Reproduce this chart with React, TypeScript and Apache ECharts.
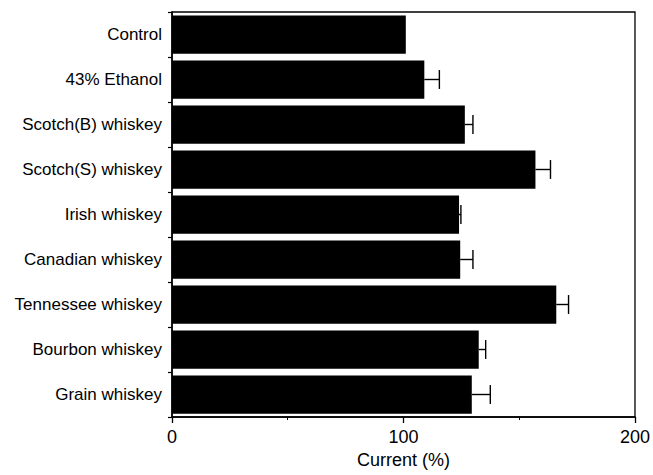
import React, { useEffect, useRef } from "react";
import * as echarts from "echarts";

const categories = [
  "Control",
  "43% Ethanol",
  "Scotch(B) whiskey",
  "Scotch(S) whiskey",
  "Irish whiskey",
  "Canadian whiskey",
  "Tennessee whiskey",
  "Bourbon whiskey",
  "Grain whiskey",
];
const means = [101, 109, 126.5, 157, 124, 124.5, 166, 132.5, 129.5];
const errors = [0, 6.5, 3.5, 6.5, 0.8, 5.5, 5.3, 3, 8];
const xTicks = [0, 100, 200];

const FONT = "'Liberation Sans', Arial, Helvetica, sans-serif";

export default function App() {
  const ref = useRef<HTMLDivElement>(null);
  useEffect(() => {
    if (!ref.current) return;
    const chart = echarts.init(ref.current, null, { renderer: "svg" });
    const errData = categories.map((c, i) => [means[i], c, means[i] + errors[i]]);
    chart.setOption({
      animation: false,
      backgroundColor: "#fff",
      grid: {
        left: 172,
        right: 18,
        top: 12,
        bottom: 58,
        show: true,
        borderColor: "#000",
        borderWidth: 1.3,
        backgroundColor: "transparent",
      },
      xAxis: {
        type: "value",
        min: xTicks[0],
        max: xTicks[xTicks.length - 1],
        interval: 100,
        name: "Current (%)",
        nameLocation: "middle",
        nameGap: 33,
        nameTextStyle: { fontFamily: FONT, fontSize: 18, color: "#000" },
        axisLine: { show: true, lineStyle: { color: "#000", width: 1.5 } },
        axisTick: { show: true, length: 6, lineStyle: { color: "#000", width: 1.3 } },
        minorTick: { show: true, splitNumber: 2, length: 3, lineStyle: { color: "#000", width: 1 } },
        splitLine: { show: false },
        axisLabel: { fontFamily: FONT, fontSize: 18, color: "#000", margin: 11 },
      },
      yAxis: {
        type: "category",
        data: categories,
        inverse: true,
        axisLine: { show: true, lineStyle: { color: "#000", width: 1.5 } },
        axisTick: { show: true, length: 4, lineStyle: { color: "#000", width: 1.2 } },
        splitLine: { show: false },
        axisLabel: { fontFamily: FONT, fontSize: 17, color: "#000", margin: 10 },
      },
      series: [
        {
          type: "bar",
          data: means,
          barWidth: "85%",
          itemStyle: { color: "#000" },
        },
        {
          type: "custom",
          data: errData,
          encode: { x: [0, 2], y: 1 },
          z: 3,
          renderItem: (params: any, api: any) => {
            const lo = api.value(0);
            const hi = api.value(2);
            if (hi - lo <= 0) return { type: "group", children: [] };
            const yi = api.value(1);
            const p0 = api.coord([lo, yi]);
            const p1 = api.coord([hi, yi]);
            const h = api.size([0, 1])[1] * 0.42;
            const style = { stroke: "#000", lineWidth: 1.4 };
            return {
              type: "group",
              children: [
                { type: "line", shape: { x1: p0[0], y1: p0[1], x2: p1[0], y2: p1[1] }, style },
                { type: "line", shape: { x1: p1[0], y1: p1[1] - h / 2, x2: p1[0], y2: p1[1] + h / 2 }, style },
              ],
            };
          },
        },
      ],
    });
    return () => chart.dispose();
  }, []);
  return (
    <div
      ref={ref}
      style={{ position: "fixed", left: 0, top: 0, width: 653, height: 475, background: "#fff" }}
    />
  );
}
